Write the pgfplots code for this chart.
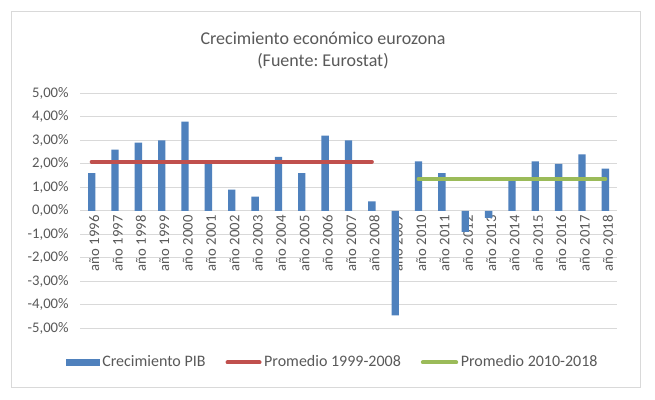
\documentclass[border=0pt]{standalone}
\usepackage{pgfplots}
\pgfplotsset{compat=1.18}
\usepackage{pgfplotstable}
\usepackage{fontspec}
\setmainfont{Carlito}
\frenchspacing
\definecolor{barblue}{HTML}{4F81BD}
\definecolor{linered}{HTML}{C0504D}
\definecolor{linegreen}{HTML}{9BBB59}
\definecolor{gridgray}{HTML}{D9D9D9}
\definecolor{textgray}{HTML}{595959}
\pgfplotstableread{
x y
0 1.6
1 2.6
2 2.9
3 3.0
4 3.8
5 2.1
6 0.9
7 0.6
8 2.3
9 1.6
10 3.2
11 3.0
12 0.4
13 -4.45
14 2.1
15 1.6
16 -0.9
17 -0.3
18 1.4
19 2.1
20 2.0
21 2.4
22 1.8
}\pib
\pgfplotstableread{
x y
0 2.09
1 2.09
2 2.09
3 2.09
4 2.09
5 2.09
6 2.09
7 2.09
8 2.09
9 2.09
10 2.09
11 2.09
12 2.09
}\promA
\pgfplotstableread{
x y
14 1.356
15 1.356
16 1.356
17 1.356
18 1.356
19 1.356
20 1.356
21 1.356
22 1.356
}\promB
\begin{document}
\begin{tikzpicture}
\useasboundingbox (0pt,0pt) rectangle (491.25pt,299.25pt);
\fill[white] (0pt,0pt) rectangle (491.25pt,299.25pt);
\draw[gridgray, line width=0.75pt] (8.25pt,9pt) rectangle (480pt,290.25pt);
\node[font=\fontsize{13.5}{16.5}\selectfont, text=textgray, align=center] at (242.25pt,261pt) {Crecimiento económico eurozona\\(Fuente: Eurostat)};
\begin{axis}[
  at={(60pt,53pt)}, anchor=south west,
  scale only axis, width=402.75pt, height=176.25pt,
  xmin=-0.5, xmax=22.5, ymin=-5, ymax=5,
  axis x line*=middle, axis y line*=left,
  axis line style={draw=none},
  major tick length=0pt,
  ytick={-5,-4,...,5},
  yticklabels={{-5,00\%},{-4,00\%},{-3,00\%},{-2,00\%},{-1,00\%},{0,00\%},{1,00\%},{2,00\%},{3,00\%},{4,00\%},{5,00\%}},
  xtick={0,...,22},
  xticklabels={año 1996,año 1997,año 1998,año 1999,año 2000,año 2001,año 2002,año 2003,año 2004,año 2005,año 2006,año 2007,año 2008,año 2009,año 2010,año 2011,año 2012,año 2013,año 2014,año 2015,año 2016,año 2017,año 2018},
  xticklabel style={rotate=90, anchor=east, font=\fontsize{11}{13}\selectfont, text=textgray, yshift=-2pt},
  yticklabel style={font=\fontsize{11}{13}\selectfont, text=textgray, xshift=-5pt},
  ymajorgrids, grid style={gridgray, line width=0.75pt},
  legend columns=3,
  legend style={draw=none, fill=none, at={(0.471,-0.145)}, anchor=center,
    font=\fontsize{12}{14}\selectfont, text=textgray,
    /tikz/every even column/.append style={column sep=13pt}},
]
\addplot[ybar, bar width=5.5pt, bar shift=0pt, fill=barblue, draw=none,
  legend image code/.code={\fill[barblue] (0pt,-2.6pt) rectangle (25.5pt,2.6pt);}]
  table[x=x,y=y]{\pib};
\addlegendentry{Crecimiento PIB}
\addplot[linered, line width=3pt, line cap=round, mark=none,
  legend image code/.code={\draw[linered, line width=3pt, line cap=round] (1pt,0pt) -- (25pt,0pt);}]
  table[x=x,y=y]{\promA};
\addlegendentry{Promedio 1999-2008}
\addplot[linegreen, line width=3pt, line cap=round, mark=none,
  legend image code/.code={\draw[linegreen, line width=3pt, line cap=round] (1pt,0pt) -- (26pt,0pt);}]
  table[x=x,y=y]{\promB};
\addlegendentry{Promedio 2010-2018}
\end{axis}
\end{tikzpicture}
\end{document}
